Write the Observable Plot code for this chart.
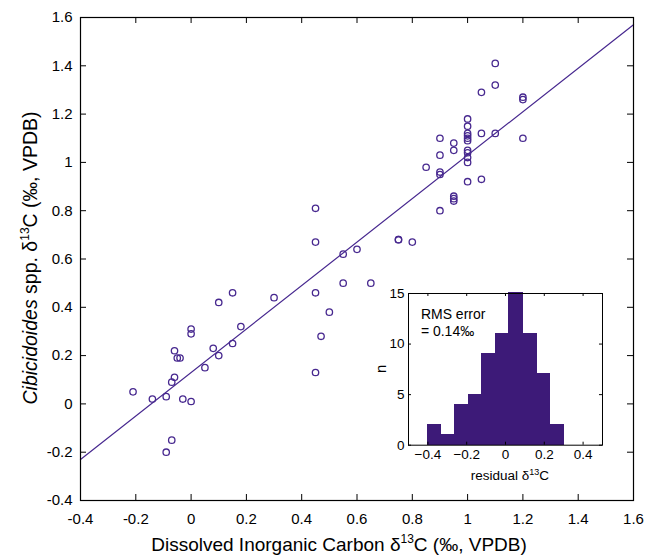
<!DOCTYPE html>
<html><head><meta charset="utf-8">
<script src="https://cdn.jsdelivr.net/npm/d3@7"></script>
<script src="https://cdn.jsdelivr.net/npm/@observablehq/plot@0.6"></script>
<style>
body{margin:0;background:#fff;}
#wrap{position:relative;width:660px;height:556px;font-family:"Liberation Sans",Arial,Helvetica,sans-serif;}
#wrap svg{position:absolute;overflow:visible;}
</style></head><body><div id="wrap"></div>
<script>
// Main scatter: Dissolved Inorganic Carbon d13C (x) vs Cibicidoides d13C (y)
const dicX = [-0.21,-0.14,-0.09,-0.07,-0.06,-0.06,-0.05,-0.04,-0.03,0,0,0,-0.09,-0.07,0.05,0.08,0.10,0.10,0.15,0.15,0.18,0.30,0.45,0.45,0.47,0.50,0.55,0.55,0.60,0.65,0.45,0.45,
  0.75,0.75,0.80,0.85,0.90,0.90,0.90,0.90,0.90,0.95,0.95,0.95,0.95,0.95,1.0,1.0,1.0,1.0,1.0,1.0,1.0,1.0,1.0,1.0,1.05,1.05,1.05,1.10,1.10,1.10,1.20,1.20,1.20,1.0];
const cibY = [0.05,0.02,0.03,0.09,0.11,0.22,0.19,0.19,0.02,0.01,0.31,0.29,-0.20,-0.15,0.15,0.23,0.20,0.42,0.46,0.25,0.32,0.44,0.46,0.13,0.28,0.38,0.50,0.62,0.64,0.50,0.81,0.67,
  0.68,0.68,0.67,0.98,1.10,1.03,0.96,0.95,0.80,1.08,1.05,0.86,0.85,0.84,1.18,1.15,1.12,1.10,1.09,1.05,1.04,1.02,1.00,0.92,1.29,1.12,0.93,1.41,1.32,1.12,1.27,1.26,1.10,1.11];
const fitSlope = 0.90;
const fitIntercept = 0.13;
const axisRange = [-0.4, 1.6];
const mainTicks = [-0.4,-0.2,0,0.2,0.4,0.6,0.8,1,1.2,1.4,1.6];

// Inset histogram of residuals
const binEdges = [-0.40,-0.33,-0.26,-0.19,-0.12,-0.05,0.02,0.09,0.16,0.23,0.30];
const binCounts = [2,1,4,5,9,11,15,11,7,2];
const histXTicks = [-0.4,-0.2,0,0.2,0.4];
const histYTicks = [0,5,10,15];
const histRange = [-0.5, 0.5];
const rmsText = ["RMS error", "= 0.14‰"];

const ptColor = "#47288f";
const barColor = "#3d1a78";
const font = '"Liberation Sans", Arial, Helvetica, sans-serif';

const W = 660, H = 556, mL = 80, mR = 27, mT = 17, mB = 56;
const tickPx = 6;
const tx = tickPx / ((W - mL - mR) / (axisRange[1] - axisRange[0]));
const ty = tickPx / ((H - mT - mB) / (axisRange[1] - axisRange[0]));
const fmt = d => String(+d.toFixed(1));

const pts = dicX.map((x, i) => ({x, y: cibY[i]}));
const fit = axisRange.map(x => ({x, y: fitIntercept + fitSlope * x}));

const main = Plot.plot({
  width: W, height: H, marginLeft: mL, marginRight: mR, marginTop: mT, marginBottom: mB,
  style: {fontFamily: font, fontSize: "15px", background: "transparent", color: "black"},
  x: {domain: axisRange},
  y: {domain: axisRange},
  marks: [
    Plot.axisX(mainTicks, {tickSize: 0, tickPadding: 13, tickFormat: fmt, label: null, fontSize: 15}),
    Plot.axisY(mainTicks, {tickSize: 0, tickPadding: 8, tickFormat: fmt, label: null, fontSize: 15}),
    Plot.ruleX(mainTicks, {x: d => d, y1: axisRange[0], y2: axisRange[0] + ty, stroke: "black"}),
    Plot.ruleX(mainTicks, {x: d => d, y1: axisRange[1], y2: axisRange[1] - ty, stroke: "black"}),
    Plot.ruleY(mainTicks, {y: d => d, x1: axisRange[0], x2: axisRange[0] + tx, stroke: "black"}),
    Plot.ruleY(mainTicks, {y: d => d, x1: axisRange[1], x2: axisRange[1] - tx, stroke: "black"}),
    Plot.line(fit, {x: "x", y: "y", stroke: ptColor, strokeWidth: 1.2}),
    Plot.dot(pts, {x: "x", y: "y", r: 3.2, stroke: ptColor, strokeWidth: 1.3, fill: "none"}),
    Plot.frame({stroke: "black", strokeWidth: 1.2})
  ]
});
main.style.left = "0px"; main.style.top = "0px";
document.getElementById("wrap").appendChild(main);

// axis titles with italic and superscript
const ms = d3.select(main);
const xl = ms.append("text").attr("x", 339).attr("y", 551).attr("text-anchor", "middle")
  .attr("font-size", 19).attr("font-family", font).attr("fill", "black");
xl.append("tspan").text("Dissolved Inorganic Carbon \u03b4");
xl.append("tspan").attr("font-size", 12).attr("dy", -8).text("13");
xl.append("tspan").attr("dy", 8).text("C (\u2030, VPDB)");

const yl = ms.append("text").attr("transform", "translate(37,258) rotate(-90)").attr("text-anchor", "middle")
  .attr("font-size", 19.5).attr("font-family", font).attr("fill", "black");
yl.append("tspan").attr("font-style", "italic").text("Cibicidoides");
yl.append("tspan").text(" spp. \u03b4");
yl.append("tspan").attr("font-size", 12).attr("dy", -8).text("13");
yl.append("tspan").attr("dy", 8).text("C (\u2030, VPDB)");

// Inset
const iL = 40, iR = 8, iT = 6, iB = 42;
const iFrameL = 408.3, iFrameT = 293.3, iW = 194, iH = 151.7;
const bins = binCounts.map((n, i) => ({x1: binEdges[i], x2: binEdges[i + 1], n}));
const itx = 3 / (iW / (histRange[1] - histRange[0]));
const ity = 3 / (iH / 15);
const inset = Plot.plot({
  width: iW + iL + iR, height: iH + iT + iB,
  marginLeft: iL, marginRight: iR, marginTop: iT, marginBottom: iB,
  style: {fontFamily: font, fontSize: "13.5px", background: "transparent", color: "black"},
  x: {domain: histRange},
  y: {domain: [0, 15]},
  marks: [
    Plot.frame({fill: "white", stroke: "none"}),
    Plot.rectY(bins, {x1: "x1", x2: "x2", y: "n", fill: barColor, stroke: barColor, strokeWidth: 1, inset: 0, shapeRendering: "crispEdges"}),
    Plot.axisX(histXTicks, {tickSize: 0, tickPadding: 4, tickFormat: d => d < 0 ? "\u2212" + fmt(-d) : fmt(d), label: null, fontSize: 13.5}),
    Plot.axisY(histYTicks, {tickSize: 0, tickPadding: 4, label: null, fontSize: 13.5}),
    Plot.ruleX(histXTicks, {x: d => d, y1: 0, y2: ity, stroke: "black"}),
    Plot.ruleX(histXTicks, {x: d => d, y1: 15, y2: 15 - ity, stroke: "black"}),
    Plot.ruleY(histYTicks, {y: d => d, x1: histRange[0], x2: histRange[0] + itx, stroke: "black"}),
    Plot.ruleY(histYTicks, {y: d => d, x1: histRange[1], x2: histRange[1] - itx, stroke: "black"}),
    Plot.text([rmsText.join("\n")], {frameAnchor: "top-left", dx: 12.4, dy: 13.4, lineAnchor: "top", textAnchor: "start", lineHeight: 1.2, fontSize: 14}),
    Plot.frame({stroke: "black", strokeWidth: 1})
  ]
});
inset.style.left = (iFrameL - iL) + "px";
inset.style.top = (iFrameT - iT) + "px";
document.getElementById("wrap").appendChild(inset);
const is = d3.select(inset);
const rl = is.append("text").attr("x", iL + iW / 2 + 5).attr("y", iT + iH + 35).attr("text-anchor", "middle")
  .attr("font-size", 13.5).attr("font-family", font).attr("fill", "black");
rl.append("tspan").text("residual \u03b4");
rl.append("tspan").attr("font-size", 9).attr("dy", -5).text("13");
rl.append("tspan").attr("dy", 5).text("C");
is.append("text").attr("transform", `translate(${iL - 22},${iT + iH / 2}) rotate(-90)`).attr("text-anchor", "middle")
  .attr("font-size", 15).attr("font-family", font).attr("fill", "black").text("n");
</script></body></html>
